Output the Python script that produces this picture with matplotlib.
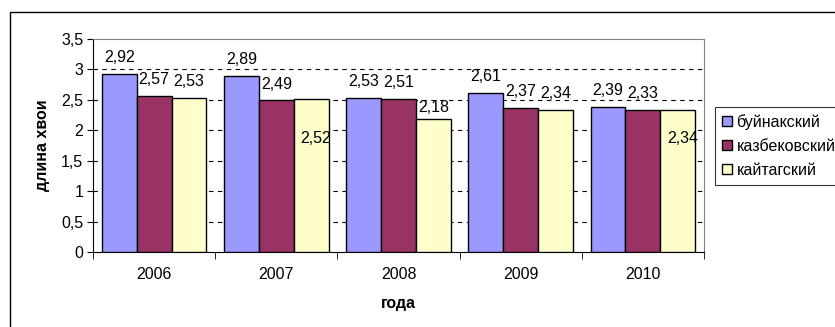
import matplotlib
matplotlib.use("Agg")
import numpy as np
import matplotlib.pyplot as plt
from matplotlib.patches import Rectangle

years = ["2006", "2007", "2008", "2009", "2010"]
series_names = ["буйнакский", "казбековский", "кайтагский"]
buynaksk = [2.92, 2.89, 2.53, 2.61, 2.39]
kazbekov = [2.57, 2.49, 2.51, 2.37, 2.33]
kaytag = [2.53, 2.52, 2.18, 2.34, 2.34]
colors = ["#9999FF", "#993366", "#FFFFCC"]

plt.rcParams['font.family'] = ['Liberation Sans', 'DejaVu Sans']
FS = 11.5

fig = plt.figure(figsize=(8.35, 3.27), dpi=100)
ax = fig.add_axes([93 / 835, 1 - 252 / 327, (704 - 93) / 835, (252 - 39) / 327])

# outer chart border
fig.patches.append(Rectangle((10 / 835, -0.1), 1.0, 1 - 12 / 327 + 0.1,
                             transform=fig.transFigure, fill=False,
                             edgecolor='black', linewidth=1.0))

x = np.arange(len(years))
w = 0.285
data = [buynaksk, kazbekov, kaytag]
for i, (vals, c, name) in enumerate(zip(data, colors, series_names)):
    pos = x + (i - 1) * w
    ax.bar(pos, vals, w, color=c, edgecolor='black', linewidth=1.0,
           label=name, zorder=3)
    for j, (px, v) in enumerate(zip(pos, vals)):
        lx, ly = px, v + 0.27
        if i == 2 and j == 2:
            ly = v + 0.19
        # two labels sit inside the yellow bars in the original
        if i == 2 and j in (1, 4):
            lx, ly = px + 0.04, 1.87
        ax.text(lx, ly, f"{v:.2f}".replace('.', ','), ha='center',
                va='center', fontsize=FS, zorder=4)

ax.set_xlim(-0.5, len(years) - 0.5)
ax.set_ylim(0, 3.5)
yt = np.arange(0, 3.51, 0.5)
ax.set_yticks(yt)
ax.set_yticklabels([f"{t:g}".replace('.', ',') for t in yt], fontsize=FS)
for t in yt[1:-1]:
    ax.axhline(t, color='black', linestyle=(0, (4, 4)), linewidth=0.8, zorder=1)

ax.set_xticks(x)
ax.set_xticklabels(years, fontsize=FS)
ax.set_xticks(np.arange(-0.5, len(years)), minor=True)
ax.tick_params(axis='x', which='major', length=0, pad=11)
ax.tick_params(axis='x', which='minor', length=5, direction='out')
ax.tick_params(axis='y', length=4, direction='out', pad=3)

for s in ['top', 'right']:
    ax.spines[s].set_color('#808080')
ax.spines['left'].set_color('black')
ax.spines['bottom'].set_color('black')

ax.set_ylabel("длина хвои", fontsize=FS, fontweight='bold', labelpad=8)
ax.set_xlabel("года", fontsize=FS, fontweight='bold', labelpad=10)

leg = fig.legend(loc='upper left', bbox_to_anchor=(715 / 835, 1 - 107 / 327),
                 fontsize=FS, frameon=True, fancybox=False, handlelength=0.6,
                 handleheight=0.6, handletextpad=0.3, borderpad=0.45,
                 labelspacing=0.55, borderaxespad=0)
leg.get_frame().set_edgecolor('black')
leg.get_frame().set_linewidth(0.8)

fig.savefig("out.png", dpi=100)
